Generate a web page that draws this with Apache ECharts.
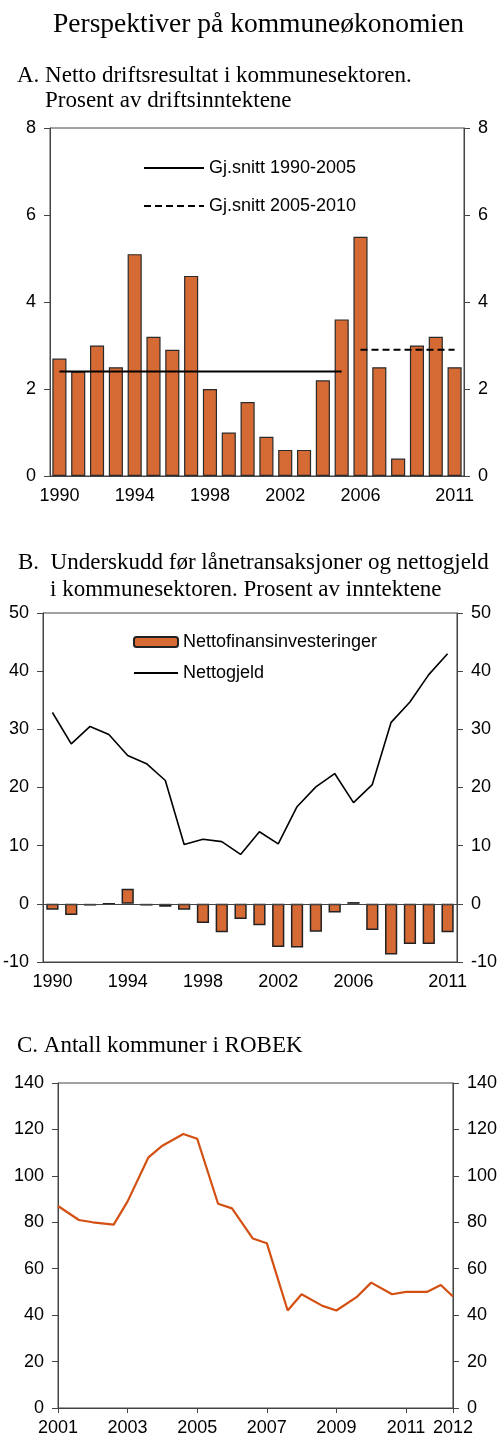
<!DOCTYPE html>
<html>
<head>
<meta charset="utf-8">
<script src="https://cdn.jsdelivr.net/npm/echarts@6.0.0/dist/echarts.min.js"></script>
<style>
  body { margin: 0; background: #fff; }
  #chart { width: 500px; height: 1455px; }
</style>
</head>
<body>
<div id="chart"></div>
<script>
// Panel A og B: år
var aar = ['1990', '1991', '1992', '1993', '1994', '1995', '1996', '1997', '1998', '1999', '2000',
           '2001', '2002', '2003', '2004', '2005', '2006', '2007', '2008', '2009', '2010', '2011'];

// A. Netto driftsresultat, prosent av driftsinntektene
var driftsresultat = [2.7, 2.4, 3.0, 2.5, 5.1, 3.2, 2.9, 4.6, 2.0, 1.0, 1.7, 0.9, 0.6, 0.6, 2.2, 3.6, 5.5, 2.5, 0.4, 3.0, 3.2, 2.5];
var snitt9005 = [2.4, 2.4, 2.4, 2.4, 2.4, 2.4, 2.4, 2.4, 2.4, 2.4, 2.4, 2.4, 2.4, 2.4, 2.4, 2.4, null, null, null, null, null, null];
var snitt0510 = [null, null, null, null, null, null, null, null, null, null, null, null, null, null, null, null, 2.9, 2.9, 2.9, 2.9, 2.9, 2.9];

// B. Nettofinansinvesteringer og nettogjeld
var nettofinans = [-1.0, -1.9, -0.3, 0, 2.6, -0.3, -0.5, -1.0, -3.3, -4.9, -2.6, -3.7, -7.4, -7.5, -4.8, -1.5, 0.3, -4.5, -8.7, -6.9, -6.9, -4.9];
var nettogjeld = [32.9, 27.5, 30.5, 29.1, 25.5, 24.1, 21.2, 10.2, 11.1, 10.7, 8.5, 12.4, 10.3, 16.7, 20.1, 22.4, 17.4, 20.5, 31.2, 34.7, 39.4, 43.0];

// C. Antall kommuner i ROBEK
var robekTid = [2001, 2001.6, 2002, 2002.6, 2003, 2003.6, 2004, 2004.6, 2005, 2005.6, 2006, 2006.6,
                2007, 2007.6, 2008, 2008.6, 2009, 2009.6, 2010, 2010.6, 2011, 2011.6, 2012, 2012.35];
var robek = [87, 81, 80, 79, 89, 108, 113, 118, 116, 88, 86, 73, 71, 42, 49, 44, 42, 48, 54, 49, 50, 50, 53, 48];

var myChart = echarts.init(document.getElementById('chart'));

var bar = '#D66A34';
var axisCol = '#444';
var sans = 'Liberation Sans';
var serif = 'Liberation Serif';

function titleStyle(size) {
    return { fontFamily: serif, fontSize: size, fontWeight: 'normal', color: '#000' };
}

function yAxis(grid, pos, min, max, step) {
    return {
        type: 'value', gridIndex: grid, position: pos,
        min: min, max: max, interval: step,
        axisLine: { show: true, lineStyle: { color: axisCol } },
        axisTick: { show: true, length: 6, lineStyle: { color: axisCol } },
        axisLabel: { margin: 14, fontFamily: sans, fontSize: 18, color: '#000' },
        splitLine: { show: false }
    };
}

function catAxis(grid) {
    return {
        type: 'category', gridIndex: grid, data: aar,
        axisLine: { onZero: false, lineStyle: { color: axisCol } },
        axisTick: { interval: 0, length: 5, lineStyle: { color: axisCol } },
        axisLabel: {
            interval: function (i) { return (i % 4 === 0 && i < 20) || i === 21; },
            margin: 11, fontFamily: sans, fontSize: 18, color: '#000'
        }
    };
}

// linjeikoner i forklaringen uten symbol
var noSymbol = { opacity: 0 };

var option = {
    backgroundColor: '#fff',
    animation: false,
    title: [
        { text: 'Perspektiver på kommuneøkonomien', left: 53, top: 11, padding: 0, textStyle: titleStyle(27.5) },
        { text: 'A. Netto driftsresultat i kommunesektoren.', left: 17, top: 64, padding: 0, textStyle: titleStyle(23) },
        { text: 'Prosent av driftsinntektene', left: 45, top: 89, padding: 0, textStyle: titleStyle(23) },
        { text: 'B.  Underskudd før lånetransaksjoner og nettogjeld', left: 18, top: 551, padding: 0, textStyle: titleStyle(23) },
        { text: 'i kommunesektoren. Prosent av inntektene', left: 50, top: 578, padding: 0, textStyle: titleStyle(23) },
        { text: 'C. Antall kommuner i ROBEK', left: 17, top: 1034, padding: 0, textStyle: titleStyle(23) }
    ],
    legend: [{
        data: [{ name: 'Gj.snitt 1990-2005', itemStyle: noSymbol }, { name: 'Gj.snitt 2005-2010', itemStyle: noSymbol }],
        orient: 'vertical', left: 143, top: 159, padding: 0,
        itemWidth: 60, itemHeight: 18, itemGap: 20,
        textStyle: { fontFamily: sans, fontSize: 18, color: '#000' }
    }, {
        data: ['Nettofinansinvesteringer', { name: 'Nettogjeld', itemStyle: noSymbol }],
        orient: 'vertical', left: 133, top: 633, padding: 0,
        itemWidth: 44, itemHeight: 10, itemGap: 13,
        textStyle: { fontFamily: sans, fontSize: 18, color: '#000' }
    }],
    grid: [
        { left: 50, top: 128, width: 414, height: 348, show: true, borderColor: axisCol, borderWidth: 1, backgroundColor: 'transparent' },
        { left: 42, top: 613, width: 415, height: 349, show: true, borderColor: axisCol, borderWidth: 1, backgroundColor: 'transparent' },
        { left: 58, top: 1083, width: 396, height: 325, show: true, borderColor: axisCol, borderWidth: 1, backgroundColor: 'transparent' }
    ],
    xAxis: [
        catAxis(0),
        catAxis(1),
        {
            type: 'value', gridIndex: 2, min: 2001, max: 2012.35, interval: 2,
            axisLine: { onZero: false, lineStyle: { color: axisCol } },
            axisTick: { length: 5, lineStyle: { color: axisCol } },
            axisLabel: {
                margin: 11, fontFamily: sans, fontSize: 18, color: '#000',
                showMinLabel: true, showMaxLabel: true,
                formatter: function (v) { return String(Math.floor(v)); }
            },
            splitLine: { show: false }
        }
    ],
    yAxis: [
        yAxis(0, 'left', 0, 8, 2), yAxis(0, 'right', 0, 8, 2),
        yAxis(1, 'left', -10, 50, 10), yAxis(1, 'right', -10, 50, 10),
        yAxis(2, 'left', 0, 140, 20), yAxis(2, 'right', 0, 140, 20)
    ],
    series: [{
        name: 'Netto driftsresultat',
        type: 'bar', xAxisIndex: 0, yAxisIndex: 0,
        barCategoryGap: '25%',
        itemStyle: { color: bar, borderColor: '#2a2a2a', borderWidth: 1.2 },
        data: driftsresultat
    }, {
        name: 'Gj.snitt 1990-2005',
        type: 'line', xAxisIndex: 0, yAxisIndex: 0,
        symbol: 'none',
        itemStyle: { color: '#000' },
        lineStyle: { color: '#000', width: 2 },
        data: snitt9005
    }, {
        name: 'Gj.snitt 2005-2010',
        type: 'line', xAxisIndex: 0, yAxisIndex: 0,
        symbol: 'none',
        itemStyle: { color: '#000' },
        lineStyle: { color: '#000', width: 2, type: [7, 4] },
        data: snitt0510
    }, {
        name: 'Nettofinansinvesteringer',
        type: 'bar', xAxisIndex: 1, yAxisIndex: 2,
        barCategoryGap: '35%',
        itemStyle: { color: bar, borderColor: '#222', borderWidth: 1.5 },
        markLine: {
            silent: true, symbol: 'none',
            label: { show: false },
            lineStyle: { color: axisCol, width: 1, type: 'solid' },
            data: [{ yAxis: 0 }]
        },
        data: nettofinans
    }, {
        name: 'Nettogjeld',
        type: 'line', xAxisIndex: 1, yAxisIndex: 2,
        symbol: 'none',
        itemStyle: { color: '#000' },
        lineStyle: { color: '#000', width: 1.6 },
        data: nettogjeld
    }, {
        name: 'ROBEK',
        type: 'line', xAxisIndex: 2, yAxisIndex: 4,
        symbol: 'none',
        lineStyle: { color: '#D35012', width: 2.2 },
        data: robekTid.map(function (t, i) { return [t, robek[i]]; })
    }]
};

myChart.setOption(option);
</script>
</body>
</html>
